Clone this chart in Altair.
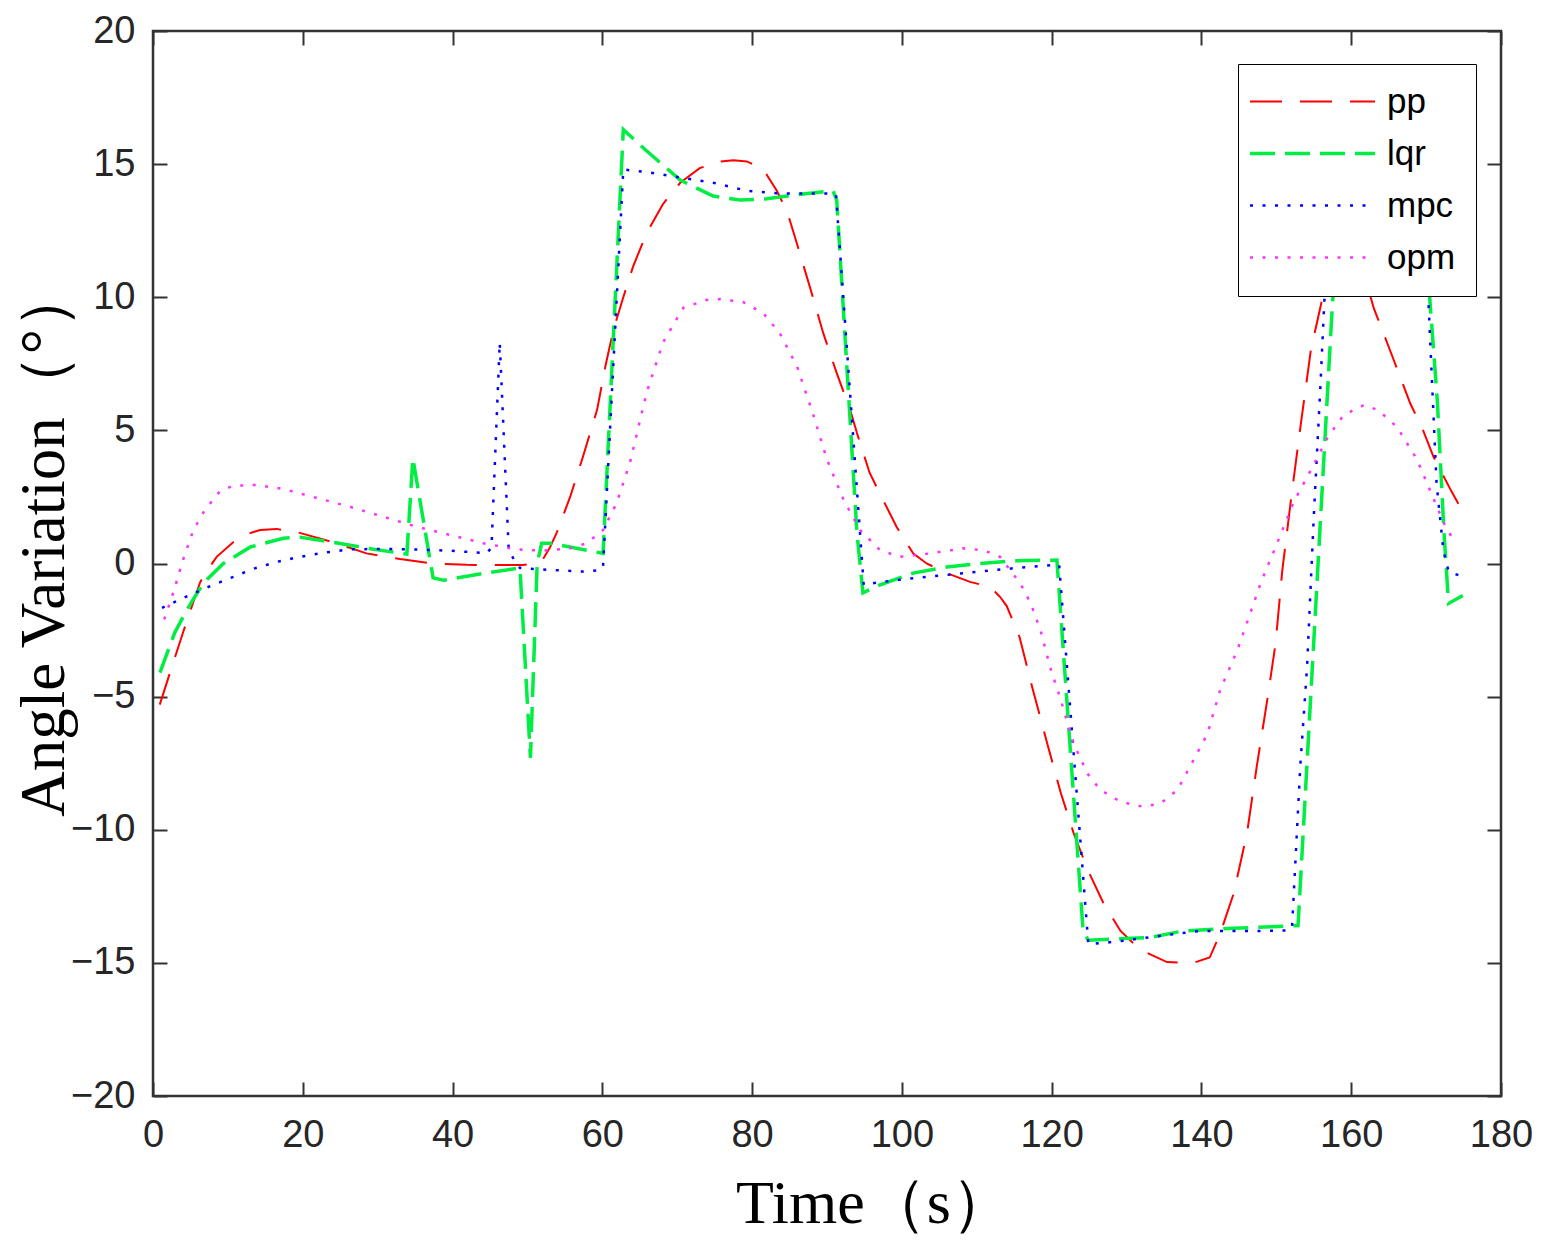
import altair as alt
import pandas as pd

series = ["pp", "lqr", "mpc", "opm"]
colors = ["#FF0000", "#00EE44", "#0000FF", "#FF33FF"]
dashes = [[32, 18], [25, 10], [3, 9.5], [3, 9.5]]
widths = [2, 3.5, 2.5, 2.5]

x_ticks = [0, 20, 40, 60, 80, 100, 120, 140, 160, 180]
y_ticks = [-20, -15, -10, -5, 0, 5, 10, 15, 20]

pp_t = [0.9, 2.5, 4.0, 5.2, 6.3, 7.4, 8.5, 10.7, 12.5, 14.3, 16.5, 19.6, 24, 28.5, 33, 37.4, 41.9, 46.3, 49.4,
        51, 52, 53, 53.9, 55.7, 57.4, 59.3, 60.4, 61.5, 62.8, 64.1, 65.9, 68.1, 70.4, 73, 75.7, 77.5, 79.3, 81.5,
        83.3, 84.7, 86, 87.7, 89.5, 91.3, 93.1, 94, 95.7, 97.5, 99.3, 101.5, 103.3, 106, 109.1, 111.8, 113.1, 114,
        115.7, 117.5, 119.4, 121.2, 122.9, 124.8, 126.9, 129.2, 131.8, 135.4, 138.9, 141.1, 142.5, 144.3, 146.1,
        147.4, 148.8, 149.9, 150.8, 152, 153.3, 154.6, 156.1, 157.5, 159, 160.5, 162, 163, 165.6, 167.9, 169.6,
        171, 172.1, 173.4, 175]
pp_y = [-5.3, -3.9, -2.6, -1.6, -0.7, -0.2, 0.25, 0.8, 1.1, 1.26, 1.3, 1.15, 0.8, 0.38, 0.17, 0.0, -0.05, -0.06,
        -0.06, 0.0, 0.13, 0.6, 1.15, 2.5, 4.0, 5.77, 7.4, 8.8, 10, 11.15, 12.4, 13.5, 14.3, 14.85, 15.1, 15.15, 15.1,
        14.8, 14.0, 13.2, 12.0, 10.4, 8.65, 7.15, 5.76, 4.9, 3.4, 2.38, 1.37, 0.38, 0.0, -0.36, -0.69, -0.88, -1.25,
        -1.6, -2.75, -4.75, -6.75, -8.6, -10.1, -11.5, -12.75, -13.8, -14.5, -14.97, -15.0, -14.8, -13.9, -12.4,
        -10.1, -7.6, -5.1, -3.0, -0.25, 2.5, 5.3, 8.0, 9.9, 11.3, 12.0, 11.8, 10.6, 9.6, 7.7, 6.0, 5.0, 4.0, 3.4,
        2.7, 1.9]

lqr_t = [0.93, 2.9, 4.5, 6.7, 9.4, 13, 17.4, 19.6, 24, 28.5, 33.9, 34.7, 37.4, 38.8, 44.1, 49, 50.4, 51.3, 51.9,
         53, 58.8, 60.1, 62.8, 65.9, 70.4, 74.8, 78.4, 82, 86, 90.8, 91.3, 94, 94.8, 97.1, 101.5, 106, 110.4, 114.9,
         120.7, 124.2, 124.9, 128.7, 133.1, 137.6, 144.3, 152.9, 155.3, 157.5, 160.2, 163, 166, 169.4, 170.5, 171.5,
         172.4, 173, 174.9]
lqr_y = [-4.1, -2.6, -1.75, -0.74, 0.0, 0.62, 0.95, 0.99, 0.8, 0.58, 0.35, 3.95, -0.54, -0.63, -0.37, -0.17, -7.3,
         0.0, 0.76, 0.76, 0.45, 0.38, 16.3, 15.5, 14.4, 13.8, 13.65, 13.7, 13.85, 14.0, 13.65, 1.14, -1.1, -0.8,
         -0.36, -0.13, 0.0, 0.1, 0.13, -13.8, -14.15, -14.1, -14.05, -13.8, -13.7, -13.6, -1.4, 9.8, 18.8, 17.2,
         16.0, 15.3, 9.9, 6.1, 1.1, -1.5, -1.2]

mpc_t = [1.2, 4, 7.2, 10.3, 13.4, 16.5, 19.6, 23.2, 26.3, 30.7, 34.7, 39.7, 44.6, 45.2, 46.3, 47.5, 48.1, 49, 53,
         57.4, 59.8, 60.1, 62.8, 65.9, 70.4, 74.8, 79.3, 83.7, 88.1, 90.8, 91.2, 94.9, 97.1, 101.5, 106, 110.4,
         114.9, 120.2, 121, 124.9, 128.7, 135.4, 139.9, 144.3, 148.8, 151.8, 152.1, 153.2, 154.1, 155, 155.9, 156.4,
         157.5, 160, 165, 169.5, 170.3, 170.8, 171.4, 172.3, 173, 174.4]
mpc_y = [-1.67, -1.3, -0.9, -0.55, -0.2, 0.06, 0.25, 0.42, 0.53, 0.55, 0.53, 0.48, 0.39, 0.6, 8.3, 0.5, 0.2, -0.17,
         -0.24, -0.3, -0.25, -0.1, 14.8, 14.7, 14.5, 14.3, 14.0, 13.9, 13.9, 13.9, 13.85, -0.8, -0.7, -0.55, -0.43,
         -0.3, -0.18, -0.06, -0.05, -14.3, -14.2, -13.95, -13.8, -13.8, -13.8, -13.78, -13.65, -7.6, -3.9, 1.76,
         6.75, 9.8, 15.5, 15.2, 14.8, 14.6, 9.9, 6.75, 3.0, 0.5, -0.3, -0.45]

opm_t = [1.5, 2.7, 4, 5.4, 6.9, 8.9, 10.7, 13.8, 17.4, 21.9, 26.3, 30.7, 35.2, 39.7, 44.1, 48.6, 52.1, 55.7, 57.9,
         60.1, 61.9, 63.7, 65.9, 68.1, 70.8, 73.9, 75.7, 78.8, 81.5, 83.7, 86, 88.1, 90, 92.2, 94.4, 97.1, 99.7,
         103.8, 108.2, 110.9, 113.1, 115.8, 117.2, 118.5, 119.8, 121.2, 122.9, 124.8, 126.5, 129.2, 132.3, 134.6,
         136.8, 138.9, 140.8, 142.5, 144.8, 146.9, 147.9, 149.9, 152.3, 154.6, 156.9, 159, 161.7, 163.6, 166.1,
         168.8, 170.5, 172.4, 173.6]
opm_y = [-2.1, -1.1, 0.13, 1.26, 2.0, 2.7, 2.92, 2.95, 2.8, 2.46, 2.13, 1.76, 1.38, 1.07, 0.76, 0.53, 0.48, 0.57,
         0.76, 1.26, 2.26, 3.8, 6.4, 8.3, 9.6, 9.9, 9.93, 9.82, 9.4, 8.65, 7.4, 5.65, 3.9, 2.4, 1.26, 0.5, 0.25,
         0.38, 0.57, 0.5, 0.25, -0.74, -1.5, -2.5, -3.9, -5.1, -6.75, -7.9, -8.5, -8.95, -9.14, -9.0, -8.5, -7.4,
         -6.4, -4.75, -3.25, -1.56, -0.74, 0.62, 2.3, 3.5, 4.76, 5.58, 5.95, 5.76, 5.13, 3.9, 2.76, 1.5, 0.9]

rows = []
for name, ts, vs in [("pp", pp_t, pp_y), ("lqr", lqr_t, lqr_y), ("mpc", mpc_t, mpc_y), ("opm", opm_t, opm_y)]:
    for i, (t, v) in enumerate(zip(ts, vs)):
        rows.append({"series": name, "t": t, "y": v, "idx": i})
df = pd.DataFrame(rows)

xs = alt.Scale(domain=[0, 180], nice=False)
ys = alt.Scale(domain=[-20, 20], nice=False)

leg = alt.Legend(
    title=None, orient="none", legendX=1085, legendY=33,
    symbolType="M-5,0H5", symbolSize=625, symbolOffset=37, labelFontSize=35,
    labelFont="Liberation Sans", labelColor="#000000", labelOffset=57,
    strokeColor="#000000", fillColor="#FFFFFF", padding=20, rowPadding=16,
)

lab = dict(labelFont="Liberation Sans", labelFontSize=38, labelColor="#262626", labelFlush=False,
           tickColor="#333333", tickWidth=2, tickSize=14, grid=False, domain=False)

lines = alt.Chart(df).mark_line(clip=True).encode(
    x=alt.X("t:Q", scale=xs, axis=alt.Axis(
        orient="bottom", values=x_ticks, offset=-14, labelPadding=20, format="d",
        title="Time（s）", titleFont="Liberation Serif", titleFontSize=62, titleFontWeight="normal",
        titleColor="#000000", titleX=721, titleY=140, titleBaseline="alphabetic", titleAlign="center",
        **lab)),
    y=alt.Y("y:Q", scale=ys, axis=alt.Axis(
        orient="left", values=y_ticks, offset=-14, labelPadding=18, format="d",
        title="Angle Variation（°）", titleFont="Liberation Serif", titleFontSize=63, titleFontWeight="normal",
        titleColor="#000000", titleX=-104, titleY=510, titleBaseline="alphabetic", titleAlign="center",
        titleAngle=270, **lab)),
    color=alt.Color("series:N", scale=alt.Scale(domain=series, range=colors), legend=leg),
    strokeDash=alt.StrokeDash("series:N", scale=alt.Scale(domain=series, range=dashes), legend=leg),
    strokeWidth=alt.StrokeWidth("series:N", scale=alt.Scale(type="ordinal", domain=series, range=widths), legend=leg),
    order="idx:Q",
)

mirror = alt.Chart(df).mark_line(opacity=0).encode(
    x=alt.X("t:Q", scale=xs, axis=alt.Axis(orient="top", values=x_ticks, offset=-14, labels=False, title="", **lab)),
    y=alt.Y("y:Q", scale=ys, axis=alt.Axis(orient="right", values=y_ticks, offset=-14, labels=False, title="", **lab)),
)

chart = alt.layer(lines, mirror).resolve_axis(x="independent", y="independent").properties(
    width=1348, height=1065,
    autosize=alt.AutoSizeParams(type="none"),
    padding={"left": 145, "top": 23, "right": 35, "bottom": 147},
    background="#FFFFFF",
).configure_view(stroke="#333333", strokeWidth=2.5)

chart.save("out.html", embed_options={"renderer": "svg", "actions": False})
